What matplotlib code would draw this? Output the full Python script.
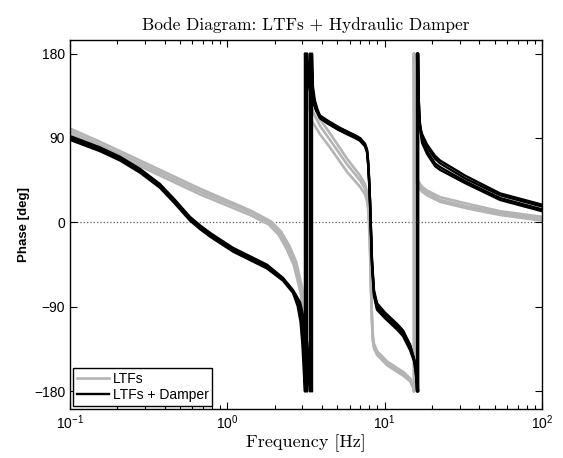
import matplotlib
matplotlib.use("Agg")
import matplotlib.pyplot as plt
import numpy as np

# phase curves: (frequency [Hz], phase [deg])
gray_a = [(0.1, 100), (0.155, 86), (0.279, 66), (0.67, 36), (1.394, 13), (1.9, 1), (2.2, -10),
          (2.48, -25), (2.74, -42), (2.9, -60), (3.03, -74), (3.12, -95), (3.17, -125), (3.21, -180),
          (3.21, 180), (3.25, 162), (3.35, 140), (3.55, 124), (3.88, 110), (4.49, 95), (5.76, 68),
          (6.97, 50), (7.5, 41), (7.72, 33), (7.83, 26), (7.95, 10), (8.07, -22), (8.19, -67),
          (8.31, -102), (8.43, -122), (8.55, -129), (8.94, -137), (10.35, -148), (11.98, -155),
          (13.08, -159), (14.5, -166), (15.15, -174), (15.4, -180), (15.4, 180), (15.5, 120),
          (15.65, 62), (15.9, 50), (16.3, 44), (17.3, 38), (18.6, 34), (22.5, 27), (33.4, 20),
          (54.1, 12), (100, 6)]
gray_b = [(0.1, 97), (0.155, 83), (0.279, 63), (0.67, 33), (1.394, 11), (1.867, 0), (2.162, -11),
          (2.43, -26), (2.692, -43), (2.855, -61), (2.983, -75), (3.071, -95), (3.117, -125),
          (3.162, -180), (3.162, 180), (3.2, 160), (3.3, 135), (3.5, 118), (3.88, 103), (4.49, 88),
          (5.76, 62), (6.97, 45), (7.5, 36), (7.72, 28), (7.83, 21), (7.95, 5), (8.07, -25),
          (8.19, -70), (8.31, -105), (8.43, -125), (8.55, -132), (8.94, -139), (10.35, -150),
          (11.98, -157), (13.08, -161), (14.5, -168), (15.15, -175), (15.37, -180), (15.37, 180),
          (15.45, 115), (15.6, 58), (15.83, 47), (16.29, 41), (17.27, 36), (18.58, 32), (22.48, 24),
          (33.37, 17), (54.08, 10), (100, 4)]
gray_c = [(0.1, 94), (0.155, 80), (0.279, 60), (0.67, 30), (1.394, 8), (1.83, -2), (2.12, -13),
          (2.38, -28), (2.64, -45), (2.8, -62), (2.93, -76), (3.02, -95), (3.07, -125), (3.12, -180),
          (3.12, 180), (3.16, 155), (3.26, 128), (3.45, 108), (3.88, 94), (4.49, 80),
          (5.76, 54), (6.97, 38), (7.5, 30), (7.72, 23), (7.83, 16), (7.95, 0), (8.07, -28),
          (8.19, -73), (8.31, -108), (8.43, -127), (8.55, -134), (8.94, -141), (10.35, -152),
          (11.98, -159), (13.08, -163), (14.5, -169), (15.15, -176), (15.35, -180), (15.35, 180),
          (15.42, 110), (15.55, 55), (15.8, 44), (16.3, 38), (17.3, 33), (18.6, 29), (22.5, 22),
          (33.4, 15), (54.1, 8), (100, 2)]

black_a = [(0.1, 88), (0.1245, 82), (0.155, 76), (0.208, 66), (0.279, 53), (0.373, 37), (0.465, 20),
           (0.579, 2), (0.67, -7), (0.776, -15), (0.898, -22), (1.086, -31), (1.394, -40),
           (1.787, -49), (2.259, -62), (2.615, -75), (2.8, -89), (2.92, -106), (3.0, -130),
           (3.07, -162), (3.117, -180),
           (3.117, 180), (3.2, 158), (3.35, 140), (3.5, 130), (3.66, 120), (3.88, 113), (4.3, 108),
           (5.05, 101), (5.6, 98), (6.48, 93), (6.97, 90), (7.5, 84), (7.72, 78), (7.83, 68),
           (7.95, 50), (8.07, 25), (8.19, -8), (8.31, -40), (8.55, -72), (8.94, -86), (10.05, -96),
           (11.98, -108), (13.08, -115), (14.5, -130), (15.37, -145), (15.83, -162), (16.06, -180),
           (16.06, 180), (16.2, 142), (16.5, 114), (16.77, 103), (17.3, 94), (18.6, 83), (20.9, 71),
           (22.5, 66), (32.4, 50), (54.1, 31), (100, 19)]
black_b = [(0.1, 90), (0.1245, 84), (0.155, 78), (0.208, 68), (0.279, 55), (0.373, 39), (0.465, 22),
           (0.579, 4), (0.67, -5), (0.776, -13), (0.898, -20), (1.086, -29), (1.394, -38),
           (1.787, -47), (2.259, -61), (2.615, -74), (2.83, -87), (2.96, -104), (3.06, -128),
           (3.15, -160), (3.209, -180),
           (3.209, 180), (3.28, 158), (3.4, 138), (3.55, 127), (3.7, 118), (3.88, 111), (4.3, 106),
           (5.05, 99), (5.6, 96), (6.48, 91), (6.97, 88), (7.5, 82), (7.72, 76), (7.83, 66),
           (7.95, 48), (8.07, 23), (8.19, -10), (8.31, -42), (8.55, -74), (8.94, -88), (10.05, -97),
           (11.98, -109), (13.08, -116), (14.5, -131), (15.37, -146), (15.83, -163), (16.1, -180),
           (16.1, 180), (16.25, 140), (16.55, 112), (16.8, 100), (17.3, 91), (18.6, 80), (20.9, 68),
           (22.5, 63), (32.4, 47), (54.1, 29), (100, 17)]
black_c = [(0.1, 91), (0.1245, 85), (0.155, 79), (0.208, 69), (0.279, 56), (0.373, 40), (0.465, 23),
           (0.579, 5), (0.67, -4), (0.776, -12), (0.898, -19), (1.086, -28), (1.394, -37),
           (1.787, -46), (2.259, -60), (2.615, -73), (2.87, -86), (3.02, -103), (3.15, -128),
           (3.27, -160), (3.353, -180),
           (3.353, 180), (3.4, 150), (3.5, 134), (3.66, 121), (3.88, 112), (4.3, 106), (5.05, 99),
           (5.6, 95), (6.48, 90), (6.97, 87), (7.5, 81), (7.72, 75), (7.83, 64), (7.95, 45),
           (8.07, 20), (8.19, -14), (8.31, -46), (8.55, -78), (8.94, -93), (10.05, -102),
           (11.98, -114), (13.08, -121), (14.5, -136), (15.6, -151), (16.06, -166), (16.3, -180),
           (16.3, 180), (16.45, 132), (16.8, 102), (17.27, 85), (18.6, 73), (20.9, 60), (22.5, 56),
           (32.4, 42), (54.1, 24), (100, 12)]
black_d = [(0.1, 92), (0.1245, 86), (0.155, 80), (0.208, 70), (0.279, 57), (0.373, 41), (0.465, 24),
           (0.579, 6), (0.67, -3), (0.776, -11), (0.898, -18), (1.086, -27), (1.394, -36),
           (1.787, -45), (2.259, -59), (2.615, -72), (2.9, -85), (3.06, -102), (3.22, -128),
           (3.36, -160), (3.453, -180),
           (3.453, 180), (3.5, 145), (3.6, 130), (3.75, 120), (3.88, 114), (4.3, 109), (5.05, 102),
           (5.6, 98), (6.48, 92), (6.97, 89), (7.5, 83), (7.72, 77), (7.83, 66), (7.95, 47),
           (8.07, 22), (8.19, -12), (8.31, -44), (8.55, -76), (8.94, -91), (10.05, -100),
           (11.98, -112), (13.08, -119), (14.5, -134), (15.6, -149), (16.06, -164), (16.3, -180),
           (16.3, 180), (16.42, 135), (16.75, 106), (17.27, 88), (18.6, 76), (20.9, 63), (22.5, 59),
           (32.4, 44), (54.1, 26), (100, 14)]

gray_lines = [gray_a, gray_b, gray_c]
black_lines = [black_a, black_b, black_c, black_d]
legend_labels = ["LTFs", "LTFs + Damper"]
y_ticks = [-180, -90, 0, 90, 180]

plt.rcParams["font.family"] = "Liberation Sans"
plt.rcParams["mathtext.fontset"] = "custom"
plt.rcParams["mathtext.rm"] = "Liberation Sans"
plt.rcParams["mathtext.it"] = "Liberation Sans:italic"
plt.rcParams["mathtext.bf"] = "Liberation Sans:bold"

GRAY = "#b4b4b4"

fig = plt.figure(figsize=(5.63, 4.58), dpi=100)
ax = fig.add_axes([0.1243, 0.107, 0.8384, 0.8057])

ax.axhline(0, color="0.35", ls=":", lw=0.9, zorder=1)

for i, line in enumerate(gray_lines):
    f, p = zip(*line)
    ax.plot(f, p, color=GRAY, lw=1.9, zorder=2, label=legend_labels[0] if i == 0 else None)
for i, line in enumerate(black_lines):
    f, p = zip(*line)
    ax.plot(f, p, color="k", lw=1.7, zorder=3, label=legend_labels[1] if i == 0 else None)

ax.set_xscale("log")
ax.set_xlim(0.1, 100)
ax.set_ylim(-198.7, 194.4)
ax.set_yticks(y_ticks)
ax.tick_params(which="both", direction="in", top=True, right=True, labelsize=10, width=0.8)
ax.tick_params(which="major", length=5)
ax.tick_params(which="minor", length=3)
for s in ax.spines.values():
    s.set_linewidth(1.0)

ax.set_title("Bode Diagram: LTFs + Hydraulic Damper", fontfamily="cmr10", fontsize=12.5, pad=7)
ax.set_xlabel("Frequency [Hz]", fontfamily="cmr10", fontsize=13, labelpad=1)
ax.set_ylabel("Phase [deg]", fontweight="bold", fontsize=9.5, labelpad=3)

leg = ax.legend(loc="lower left", fancybox=False, edgecolor="k", framealpha=1, fontsize=10,
                borderaxespad=0.25, borderpad=0.25, labelspacing=0.15, handlelength=2.3,
                handletextpad=0.3)
leg.get_frame().set_linewidth(1.0)

fig.savefig("out.png", dpi=100)
